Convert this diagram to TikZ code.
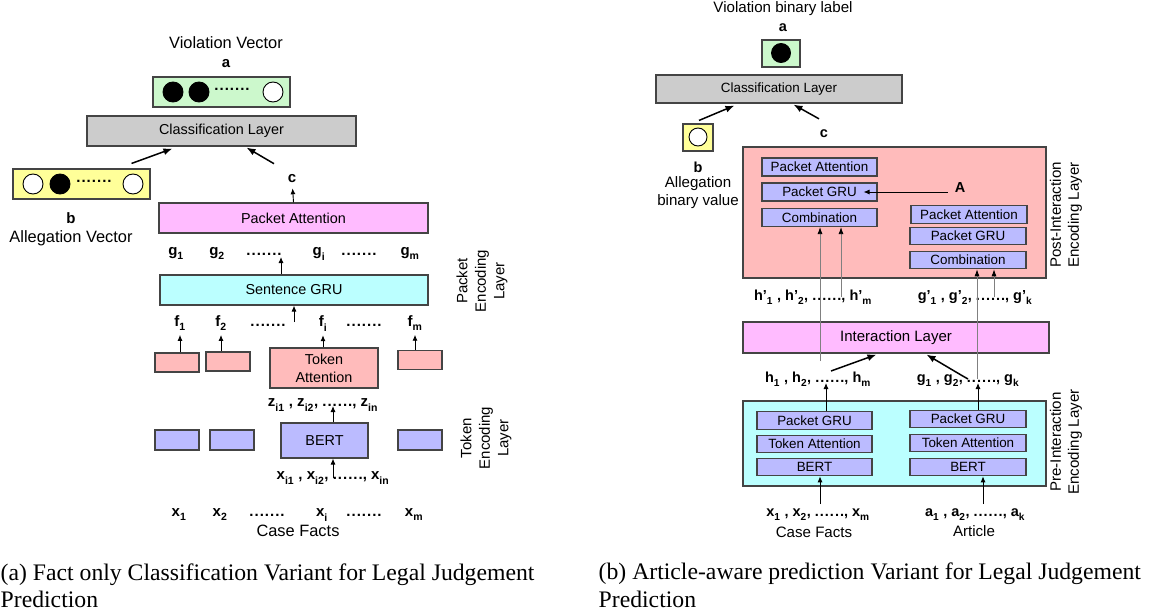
\documentclass[tikz,border=0pt]{standalone}
\usepackage{fontspec}
\setmainfont{Liberation Sans}
\newfontfamily\capfont{Liberation Serif}
\usetikzlibrary{positioning}
\usetikzlibrary{arrows.meta}
\usetikzlibrary{calc}

\definecolor{clsgray}{HTML}{CCCCCC}
\definecolor{vecgreen}{HTML}{CCF8CC}
\definecolor{vecyellow}{HTML}{FFFF99}
\definecolor{attnpink}{HTML}{FFBBFF}
\definecolor{grucyan}{HTML}{BBFFFF}
\definecolor{tokred}{HTML}{FFBBBB}
\definecolor{bertblue}{HTML}{BBBBFF}
\definecolor{rim}{HTML}{444444}

\newcommand{\ix}[2]{#1\raisebox{-0.3ex}{\textsubscript{#2}}}
\newcommand{\dotrow}[1]{\foreach \k in {1,...,#1}{.\kern1pt}\kern-1pt}

\begin{document}
\begin{tikzpicture}[x=1pt, y=-1pt,
  blk/.style={draw=rim, line width=1.1pt, inner sep=0pt},
  lbox/.style={blk, font=\fontsize{14.4}{18}\selectfont},
  rbox/.style={blk, font=\fontsize{13.4}{16}\selectfont},
  neuron/.style={circle, draw=black, line width=0.9pt, minimum size=20pt, inner sep=0pt},
  lnote/.style={inner sep=1pt, font=\fontsize{16.4}{19}\selectfont},
  rnote/.style={inner sep=1pt, font=\fontsize{15.1}{18}\selectfont},
  llab/.style={inner sep=1pt, font=\fontsize{15}{18}\selectfont\bfseries},
  rlab/.style={inner sep=1pt, font=\fontsize{14.5}{18}\selectfont\bfseries},
  lside/.style={rotate=90, align=center, font=\fontsize{15}{18.5}\selectfont},
  rside/.style={rotate=90, align=center, font=\fontsize{15.1}{18}\selectfont},
  captext/.style={inner sep=0pt, font=\capfont\fontsize{23.7}{28}\selectfont},
  arr/.style={-{Latex[length=9pt,width=7pt]}, line width=1.5pt},
  sarr/.style={-{Latex[length=6pt,width=5pt]}, line width=0.9pt},
  garr/.style={draw=gray, -{Latex[length=7pt,width=5pt,color=black]}, line width=0.8pt}]

  \useasboundingbox (0,0) rectangle (1155,615);

  % (a) fact only variant
  \node[lnote] (vv) at (226,43) {Violation Vector};
  \node[llab] (la) at (226,64) {a};
  \node[blk, fill=vecgreen, minimum width=137, minimum height=30] (vec) at (221.5,92) {};
  \foreach \x/\f/\n in {173/black/a1, 199/black/a2, 273/white/a3}
    \node[neuron, fill=\f] (\n) at (\x,92) {};
  \node[llab] (adots) at (232,89) {\dotrow{7}};

  \node[lbox, fill=clsgray, minimum width=269, minimum height=30] (cls) at (221.5,131) {Classification Layer};

  \node[blk, fill=vecyellow, minimum width=137, minimum height=30] (alg) at (81.5,184) {};
  \foreach \x/\f/\n in {33/white/b1, 60/black/b2, 133/white/b3}
    \node[neuron, fill=\f] (\n) at (\x,184) {};
  \node[llab] (bdots) at (94,181) {\dotrow{7}};
  \node[llab] (lb) at (71,218) {b};
  \node[lnote] (av) at (71,238) {Allegation Vector};

  \node[llab] (lc) at (292,179) {c};
  \draw[arr] ($(alg.north east)+(-19,-5)$) -- ($(cls.south west)+(86,2)$);
  \draw[arr] ($(lc.north)+(-18,-10)$) -- ($(cls.south west)+(160,1)$);

  \node[lbox, fill=attnpink, minimum width=269, minimum height=30] (pa) at (293.5,218) {Packet Attention};
  \draw[sarr, shorten >=4pt] (pa.north) -- (lc);

  \foreach \x/\t/\n in {176/\ix{g}{1}/g1, 217/\ix{g}{2}/g2, 264/\dotrow{7}/gd1, 319/\ix{g}{i}/gi, 359/\dotrow{7}/gd2, 410/\ix{g}{m}/gm}
    \node[llab, anchor=base] (\n) at (\x,255) {\t};

  \node[lbox, fill=grucyan, minimum width=268, minimum height=30] (gru) at (294,290) {Sentence GRU};
  \coordinate (gtip) at (281,257);
  \draw[sarr] (gru.north -| gtip) -- (gtip);

  \foreach \x/\t/\n in {180/\ix{f}{1}/f1, 221/\ix{f}{2}/f2, 268/\dotrow{7}/fd1, 323/\ix{f}{i}/fi, 364/\dotrow{7}/fd2, 415/\ix{f}{m}/fm}
    \node[llab, anchor=base] (\n) at (\x,326) {\t};
  \coordinate (ftail) at (294,322);
  \draw[sarr] (ftail) -- (ftail |- gru.south);

  \foreach \x/\y/\n in {177/362.5/t1, 228/361.5/t2, 420/360/t4}
    \node[blk, fill=tokred, minimum width=44, minimum height=19] (\n) at (\x,\y) {};
  \node[lbox, fill=tokred, minimum width=108, minimum height=40, align=center] (tatt) at (324,368) {Token\\Attention};
  \foreach \b/\l in {t1/f1, t2/f2, tatt/fi, t4/fm}
    \draw[sarr, shorten >=3pt] (\b.north -| \l) -- (\l.south);

  \node[llab, anchor=base] (zrow) at (323,406) {\ix{z}{i1} , \ix{z}{i2}, \dotrow{6}, \ix{z}{in}};
  \node[lbox, fill=bertblue, minimum width=87, minimum height=35] (bert) at (324.5,440.5) {BERT};
  \foreach \x/\n in {177/e1, 232/e2, 420/e4}
    \node[blk, fill=bertblue, minimum width=44, minimum height=20] (\n) at (\x,440) {};
  \coordinate (ztip) at (333,406);
  \draw[sarr] (bert.north -| ztip) -- (ztip);

  \node[llab, anchor=base] (xrow) at (333,479) {\ix{x}{i1} , \ix{x}{i2}, \dotrow{6}, \ix{x}{in}};
  \draw[sarr] (xrow.center) -- (xrow.center |- bert.south);

  \foreach \x/\t/\n in {179/\ix{x}{1}/x1, 220/\ix{x}{2}/x2, 267/\dotrow{7}/xd1, 322/\ix{x}{i}/xi, 364/\dotrow{7}/xd2, 414/\ix{x}{m}/xm}
    \node[llab, anchor=base] (\n) at (\x,516) {\t};
  \node[lnote] (cf) at (298,531) {Case Facts};

  \node[lside] (pel) at (482,281) {Packet\\Encoding\\Layer};
  \node[lside] (tel) at (486,438) {Token\\Encoding\\Layer};

  % (b) article-aware variant
  \node[rnote] (vbl) at (783,9) {Violation binary label};
  \node[rlab] (ra) at (783,28) {a};
  \node[blk, fill=vecgreen, minimum width=38, minimum height=27] (lbl) at (781,53.5) {};
  \node[neuron, fill=black, minimum size=19] (ru) at (781,53) {};
  \node[rbox, fill=clsgray, minimum width=246, minimum height=28] (cls2) at (779,89) {Classification Layer};

  \node[blk, fill=vecyellow, minimum width=30, minimum height=27] (abv) at (698,137.5) {};
  \node[neuron, fill=white, minimum size=18] (bu) at (698,137) {};
  \node[rlab] (rb) at (698,167) {b};
  \node[rnote, align=center] (abvt) at (698,193) {Allegation\\binary value};
  \node[rlab] (rc) at (824,134) {c};
  \draw[arr] ($(abv.north)+(1,-3)$) -- ($(cls2.south west)+(79,2)$);
  \draw[arr] ($(rc.north)+(-5,-10)$) -- ($(cls2.south west)+(138,1)$);

  \node[blk, fill=tokred, minimum width=303, minimum height=131] (post) at (894.5,212.5) {};
  \foreach \y/\t/\n in {167/Packet Attention/pa1, 192/Packet GRU/pg1, 217.5/Combination/cb1}
    \node[rbox, fill=bertblue, minimum width=115, minimum height=18] (\n) at (819.5,\y) {\t};
  \foreach \x/\y/\t/\n in {969/214.5/Packet Attention/pa2, 968/236/Packet GRU/pg2, 968/260/Combination/cb2}
    \node[rbox, fill=bertblue, minimum width=116, minimum height=17.5] (\n) at (\x,\y) {\t};
  \node[rlab] (A) at (960,188) {A};
  \draw[sarr, line width=0.8pt] ($(A.west |- pg1.east)+(-6,0)$) -- ($(pg1.east)+(-14,0)$);

  \node[rlab, anchor=base] (hp) at (813,300) {\ix{h'}{1} , \ix{h'}{2}, \dotrow{6}, \ix{h'}{m}};
  \node[rlab, anchor=base] (gp) at (975,300) {\ix{g'}{1} , \ix{g'}{2}, \dotrow{6}, \ix{g'}{k}};

  \node[blk, fill=attnpink, minimum width=306, minimum height=31, font=\fontsize{15}{18}\selectfont] (inter) at (896,337.5) {Interaction Layer};

  \node[rlab, anchor=base] (hr) at (818,382) {\ix{h}{1} , \ix{h}{2}, \dotrow{6}, \ix{h}{m}};
  \node[rlab, anchor=base] (gr) at (968,382) {\ix{g}{1} , \ix{g}{2}, \dotrow{6}, \ix{g}{k}};

  \coordinate (hl) at (820,361);
  \coordinate (hs) at (841,297);
  \coordinate (gl) at (977,379);
  \coordinate (gs) at (994,297);
  \draw[garr] (hl) -- (hl |- cb1.south);
  \draw[garr] (hs) -- (hs |- cb1.south);
  \draw[garr] (gl) -- (gl |- cb2.south);
  \draw[garr] (gs) -- (gs |- cb2.south);

  \coordinate (ht) at (831,371);
  \coordinate (gt) at (968,379);
  \draw[arr] (ht) -- ($(inter.south west)+(134,1)$);
  \draw[arr] (gt) -- ++(-7,-4) -- ($(inter.south west)+(184,1)$);

  \node[blk, fill=grucyan, minimum width=303, minimum height=85] (pre) at (894.5,443.5) {};
  \foreach \y/\t/\n in {420.5/Packet GRU/pg3, 444/Token Attention/ta3, 467/BERT/be3}
    \node[rbox, fill=bertblue, minimum width=115, minimum height=17.5] (\n) at (814.5,\y) {\t};
  \foreach \y/\t/\n in {419/Packet GRU/pg4, 443/Token Attention/ta4, 467/BERT/be4}
    \node[rbox, fill=bertblue, minimum width=116, minimum height=17.5] (\n) at (968,\y) {\t};

  \coordinate (hu) at (826,383);
  \coordinate (gu) at (978,383);
  \draw[sarr] (pg3.north -| hu) -- (hu);
  \draw[sarr] (pg4.north -| gu) -- (gu);

  \coordinate (xu) at (820,504);
  \coordinate (au) at (983,504);
  \draw[sarr] (xu) -- (xu |- be3.south);
  \draw[sarr] (au) -- (au |- be4.south);

  \node[rlab, anchor=base] (xr) at (818,516) {\ix{x}{1} , \ix{x}{2}, \dotrow{6}, \ix{x}{m}};
  \node[rlab, anchor=base] (ar) at (975,516) {\ix{a}{1} , \ix{a}{2}, \dotrow{6}, \ix{a}{k}};
  \node[rnote] (cf2) at (814,532) {Case Facts};
  \node[rnote] (art) at (974,531) {Article};

  \node[rside] (postl) at (1066,215) {Post-Interaction\\Encoding Layer};
  \node[rside] (prel) at (1066,442) {Pre-Interaction\\Encoding Layer};

  % captions
  \node[captext, anchor=base west] (capa) at (0.5,580) {(a) Fact only Classification Variant for Legal Judgement};
  \node[captext, anchor=base west] (capa2) at (0.5,607) {Prediction};
  \node[captext, anchor=base west] (capb) at (598.5,579) {(b) Article-aware prediction Variant for Legal Judgement};
  \node[captext, anchor=base west] (capb2) at (598.5,607) {Prediction};

\end{tikzpicture}
\end{document}
